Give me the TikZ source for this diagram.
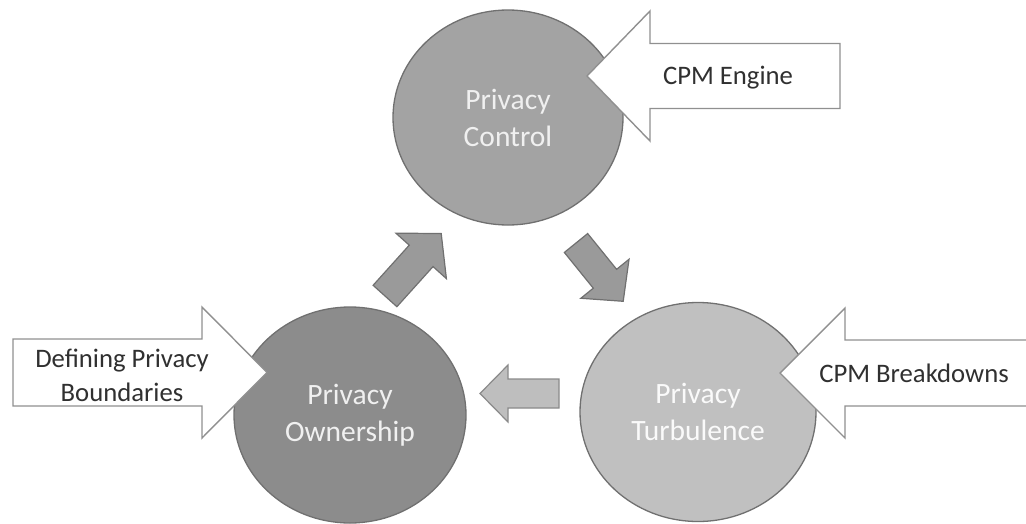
\documentclass[tikz,border=0pt]{standalone}
\usepackage{fontspec}
\setmainfont{Carlito}
\usetikzlibrary{shapes.geometric}

\definecolor{ctrlfill}{HTML}{A3A3A3}
\definecolor{ownfill}{HTML}{8C8C8C}
\definecolor{turbfill}{HTML}{C0C0C0}
\definecolor{rimgray}{HTML}{707070}
\definecolor{labelrim}{HTML}{909090}
\definecolor{flowdark}{HTML}{9A9A9A}
\definecolor{flowlight}{HTML}{BEBEBE}
\definecolor{flowlightrim}{HTML}{8A8A8A}
\definecolor{labeltext}{HTML}{303030}

\tikzset{
  % block arrow along +x: tail centre at the origin
  % #1 total length, #2 shaft width, #3 head width, #4 head length
  pics/blockarrow/.style n args={4}{code={
    \path[pic actions] (0,-#2/2) -- (#1-#4,-#2/2) -- (#1-#4,-#3/2) -- (#1,0)
      -- (#1-#4,#3/2) -- (#1-#4,#2/2) -- (0,#2/2) -- cycle;
  }},
  stage/.style={ellipse, draw=rimgray, line width=1.3pt, inner sep=0pt,
    align=center, text=white!94!black,
    font=\fontsize{29.5}{37}\selectfont},
  inputarrow/.style={draw=labelrim, fill=white, line width=1.4pt},
  flowarrow/.style={draw=rimgray, fill=flowdark, line width=1.2pt},
  returnarrow/.style={draw=flowlightrim, fill=flowlight, line width=1.2pt},
  inputlabel/.style={align=center, text=labeltext,
    font=\fontsize{26.7}{34}\selectfont},
}

\begin{document}
\begin{tikzpicture}[x=1pt, y=-1pt]
  \useasboundingbox (0,0) rectangle (1026,523);
  \clip (0,0) rectangle (1026,523);

  % the three stages
  \node[stage, fill=ctrlfill, minimum width=230pt, minimum height=215pt]
    (control) at (508,117.5) {Privacy\\Control};
  \node[stage, fill=ownfill, minimum width=232pt, minimum height=216pt]
    (ownership) at (350,415) {Privacy\\Ownership};
  \node[stage, fill=turbfill, minimum width=236pt, minimum height=219pt,
    text=white!92!turbfill] (turbulence) at (698,412) {Privacy\\Turbulence};

  % cycle arrows between the stages
  \pic[flowarrow, rotate=48] (toControl) at (385,296) {blockarrow={84}{32}{68}{30}};
  \pic[flowarrow, rotate=-51] (toTurbulence) at (576,243) {blockarrow={75}{30}{62}{29}};
  \pic[returnarrow, rotate=180] (toOwnership) at (559,393.5) {blockarrow={79}{29}{57}{28}};

  % input arrows feeding each stage
  \pic[inputarrow, rotate=180] (engine) at (840,76) {blockarrow={253}{65}{130}{63}};
  \pic[inputarrow] (boundaries) at (13,372.5) {blockarrow={254}{67}{131}{65}};
  \pic[inputarrow, rotate=180] (breakdowns) at (1045,373) {blockarrow={265}{66}{130}{65}};

  \node[inputlabel] (engineText) at (728,78) {CPM Engine};
  \node[inputlabel] (boundariesText) at (122,375) {Defining Privacy\\Boundaries};
  \node[inputlabel] (breakdownsText) at (914,373) {CPM Breakdowns};
\end{tikzpicture}
\end{document}
